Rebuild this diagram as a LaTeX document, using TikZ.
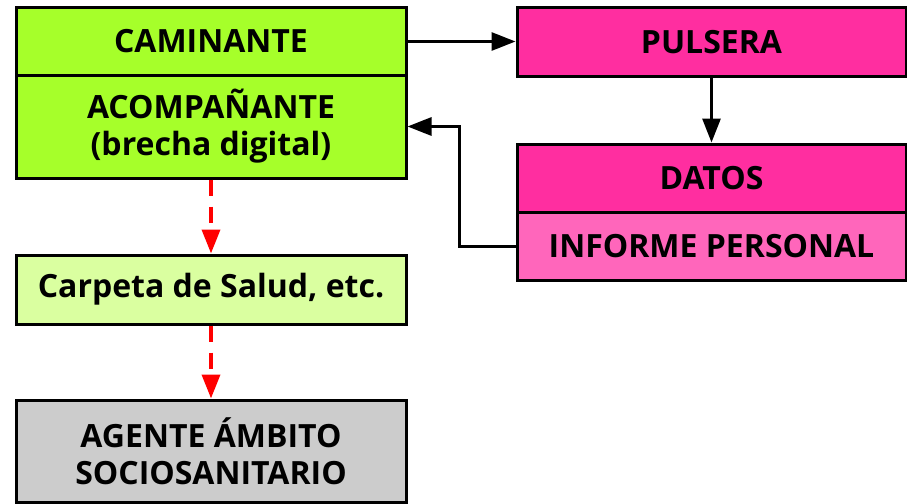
\documentclass[tikz,border=0pt]{standalone}
\usepackage{fontspec}
\setmainfont{Open Sans}
\usepackage{tikz}
\usetikzlibrary{arrows.meta}
\definecolor{walkgreen}{RGB}{166,255,42}
\definecolor{palegreen}{RGB}{218,255,160}
\definecolor{hotpink}{RGB}{255,46,160}
\definecolor{softpink}{RGB}{255,102,187}
\definecolor{agentgray}{RGB}{204,204,204}
\tikzset{
  box/.style={draw=black,line width=3pt,rectangle,inner sep=0pt,align=center,
    font=\fontsize{32}{37}\selectfont\bfseries,minimum width=390pt},
  flow/.style={line width=3pt,-{Triangle[length=24pt,width=18pt]}},
  hint/.style={line width=3.5pt,red,dash pattern=on 16pt off 11pt,-{Triangle[length=24pt,width=18pt]}}
}
\begin{document}
\begin{tikzpicture}[x=1pt,y=1pt,yscale=-1,xscale=1]
\useasboundingbox (0,0) rectangle (907,503);

%Left column
\node [box,fill=walkgreen,minimum height=67pt] (caminante) at (211,41.5) {CAMINANTE};
\node [box,fill=walkgreen,minimum height=103pt] (acompanante) at (211,126.5) {ACOMPAÑANTE\\(brecha digital)};
\node [box,fill=palegreen,minimum height=69pt] (carpeta) at (211,289.5) {Carpeta de Salud, etc.};
\node [box,fill=agentgray,minimum height=102pt] (agente) at (211,451) {AGENTE ÁMBITO\\SOCIOSANITARIO};

%Right column
\node [box,fill=hotpink,minimum width=389pt,minimum height=68pt] (pulsera) at (711.5,42) {PULSERA};
\node [box,fill=hotpink,minimum width=389pt,minimum height=68pt] (datos) at (711.5,178) {DATOS};
\node [box,fill=softpink,minimum width=389pt,minimum height=68pt] (informe) at (711.5,246) {INFORME PERSONAL};

%Connectors
\draw [flow] (caminante.east) -- (caminante.east -| pulsera.west);
\draw [flow] (pulsera.south) -- (datos.north);
\draw [flow] (informe.west) -- ++(-56,0) |- (acompanante.east);
\draw [hint] (acompanante.south) -- (carpeta.north);
\draw [hint] (carpeta.south) -- (agente.north);

\end{tikzpicture}
\end{document}
